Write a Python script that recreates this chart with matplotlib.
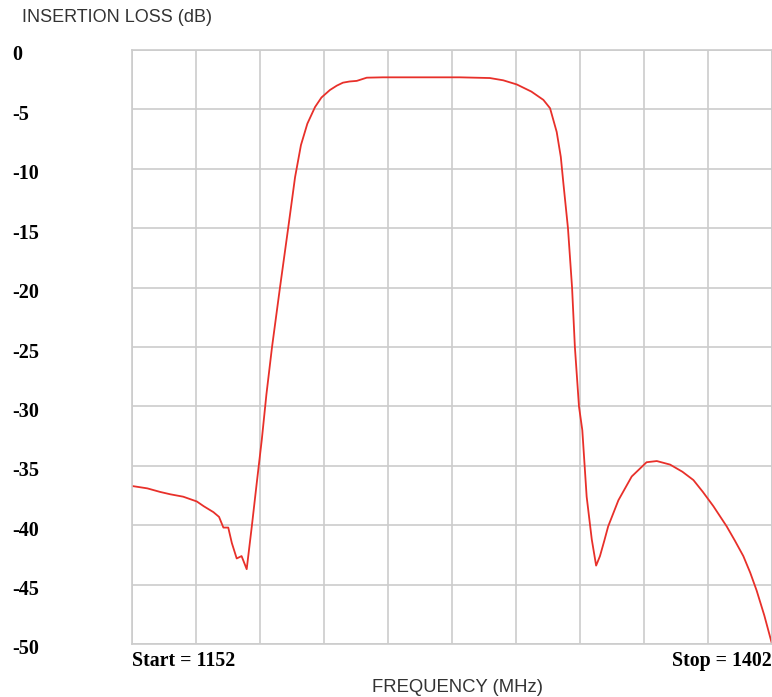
import numpy as np
import matplotlib.pyplot as plt
from matplotlib.transforms import ScaledTranslation

# frequency (MHz) and insertion loss (dB)
freq = [1152, 1155, 1158, 1163, 1167, 1172, 1177.3, 1180, 1183.8, 1186, 1187.7,
        1189.6, 1191, 1192.9, 1194.8, 1196.8, 1198.8, 1200.7, 1202.7, 1204.5,
        1206.7, 1209.8, 1213, 1215.7, 1218, 1220.5, 1223.5, 1226, 1229.3, 1232,
        1234.4, 1237, 1239.8, 1243.7, 1250, 1254, 1262, 1270, 1280, 1291.8,
        1297, 1302.3, 1308, 1312.7, 1315.3, 1317.9, 1319.5, 1320.5, 1322.3,
        1323.9, 1325, 1326.6, 1327.9, 1329.6, 1331.6, 1333.3, 1334.8, 1336.5,
        1338, 1342, 1347.2, 1353, 1357, 1362.2, 1367, 1371.3, 1375, 1379.1,
        1384.3, 1387.5, 1390.8, 1393.5, 1396, 1399, 1402]
loss = [-36.7, -36.8, -36.9, -37.2, -37.4, -37.6, -38.0, -38.4, -38.9, -39.3,
        -40.2, -40.2, -41.5, -42.8, -42.6, -43.7, -40.1, -36.5, -32.8, -29.0,
        -25.0, -20.0, -15.0, -10.7, -8.0, -6.2, -4.8, -4.0, -3.37, -3.0, -2.75,
        -2.65, -2.6, -2.33, -2.3, -2.3, -2.3, -2.3, -2.3, -2.36, -2.55, -2.9,
        -3.5, -4.2, -4.9, -6.9, -9.0, -11.2, -15.0, -20.0, -25.0, -30.0, -32.0,
        -37.6, -41.2, -43.4, -42.6, -41.3, -40.1, -37.9, -35.9, -34.7, -34.6,
        -34.9, -35.5, -36.2, -37.2, -38.4, -40.1, -41.3, -42.6, -44.0, -45.5,
        -47.6, -50.0]
yticks = np.arange(-50, 1, 5)

fig = plt.figure(figsize=(7.72, 6.97), dpi=100)
ax = fig.add_axes([132 / 772, 53 / 697, 640 / 772, 594 / 697])

grid_c = '#cccccc'
ax.plot(freq, loss, color='#e8302a', lw=1.3)
ax.set_xlim(1152, 1402)
ax.set_ylim(-50, 0)
ax.set_xticks(np.arange(1152, 1403, 25))
ax.set_yticks(yticks)
ax.set_yticklabels([str(v) for v in yticks])
ax.grid(True, color=grid_c, lw=1.2)
for s in ax.spines.values():
    s.set_color(grid_c)
    s.set_linewidth(1.2)
ax.tick_params(axis='x', length=0, labelbottom=False)
ax.tick_params(axis='y', length=0, pad=86)
shift = ScaledTranslation(0, -3 / 100, fig.dpi_scale_trans)
for lbl in ax.get_yticklabels():
    lbl.set_horizontalalignment('left')
    lbl.set_fontfamily('Liberation Serif')
    lbl.set_fontweight('bold')
    lbl.set_fontsize(14.5)
    lbl.set_transform(lbl.get_transform() + shift)

ax.text(0, -0.012, 'Start = 1152', transform=ax.transAxes, ha='left', va='top',
        family='Liberation Serif', weight='bold', fontsize=14.3)
ax.text(1, -0.012, 'Stop = 1402', transform=ax.transAxes, ha='right', va='top',
        family='Liberation Serif', weight='bold', fontsize=14.3)
fig.text(458 / 772, 1 - 687 / 697, 'FREQUENCY (MHz)', ha='center', va='center',
         family='Liberation Sans', fontsize=13.3, color='#333333')
fig.text(22 / 772, 1 - 18 / 697, 'INSERTION LOSS (dB)', ha='left', va='center',
         family='Liberation Sans', fontsize=13, color='#333333')

fig.savefig('out.png', dpi=100)
